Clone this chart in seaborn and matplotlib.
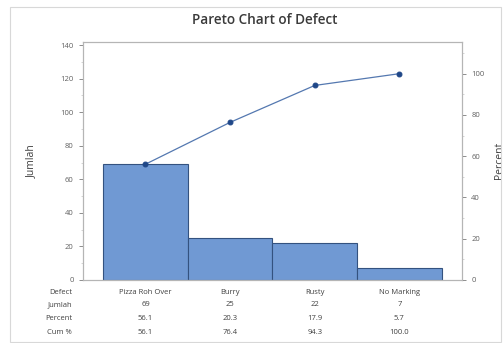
import numpy as np
import pandas as pd
import matplotlib
matplotlib.use("Agg")
import matplotlib.pyplot as plt
import matplotlib.transforms as mtransforms
from matplotlib.patches import Rectangle
from matplotlib.ticker import MultipleLocator
import seaborn as sns

# Data
defects = ["Pizza Roh Over", "Burry", "Rusty", "No Marking"]
counts = [69, 25, 22, 7]
percent = [56.1, 20.3, 17.9, 5.7]
cum_percent = [56.1, 76.4, 94.3, 100.0]
left_ticks = [0, 20, 40, 60, 80, 100, 120, 140]
right_ticks = [0, 20, 40, 60, 80, 100]

total = sum(counts)
df = pd.DataFrame({"Defect": defects, "Jumlah": counts, "Cum": cum_percent})

sns.set_style("white")
plt.rcParams['font.family'] = ['Open Sans', 'DejaVu Sans']

fig = plt.figure(figsize=(5.04, 3.43), dpi=100)
ax = fig.add_axes([0.164, 0.184, 0.753, 0.694])

bar_col = '#7099d3'
edge_col = '#34527f'
line_col = '#5478b0'
dot_col = '#1f4788'
grey = '#b5b5b5'
txt = '#404040'

sns.barplot(data=df, x="Defect", y="Jumlah", color=bar_col, width=1.0,
            edgecolor=edge_col, linewidth=0.8, saturation=1, ax=ax)

top = 142
ax.set_ylim(0, top)
ax.set_xlim(-0.742, 3.742)
ax.set_yticks(left_ticks)
ax.yaxis.set_minor_locator(MultipleLocator(10))
ax.set_xticks([])
ax.set_xlabel("")
ax.set_ylabel("Jumlah", fontsize=7.5, color=txt)
ax.yaxis.set_label_coords(-0.12, 0.5)
ax.tick_params(axis='y', labelsize=5.5, colors='#606060', length=3, width=0.5, direction='out')
ax.tick_params(axis='y', which='minor', length=1.5, width=0.4, colors=grey)
for s in ax.spines.values():
    s.set_color(grey)
    s.set_linewidth(0.8)

ax2 = ax.twinx()
sns.lineplot(data=df, x="Defect", y="Cum", color=line_col, linewidth=0.9,
             marker='o', markersize=3.5, markerfacecolor=dot_col,
             markeredgecolor=dot_col, ax=ax2)
ax2.set_ylim(0, top / total * 100)
ax2.set_yticks(right_ticks)
ax2.yaxis.set_minor_locator(MultipleLocator(10))
ax2.set_ylabel("Percent", fontsize=7.5, color=txt)
ax2.yaxis.set_label_coords(1.085, 0.5)
ax2.tick_params(axis='y', labelsize=5.5, colors='#606060', length=3, width=0.5, direction='out')
ax2.tick_params(axis='y', which='minor', length=1.5, width=0.4, colors=grey)
for s in ax2.spines.values():
    s.set_color(grey)
    s.set_linewidth(0.8)

ax.set_title("Pareto Chart of Defect", fontsize=9.8, color='#3a3a3a',
             fontweight='semibold', x=0.48, pad=13)

# table below the chart
trans = mtransforms.blended_transform_factory(ax.transData, fig.transFigure)
trans_lbl = mtransforms.blended_transform_factory(ax.transAxes, fig.transFigure)
rows = [("Defect", defects),
        ("Jumlah", [str(c) for c in counts]),
        ("Percent", [f"{p:.1f}" for p in percent]),
        ("Cum %", [f"{p:.1f}" for p in cum_percent])]
row_y = [1 - 292 / 343, 1 - 305 / 343, 1 - 319 / 343, 1 - 332 / 343]
for (name, vals), yy in zip(rows, row_y):
    ax.text(-0.028, yy, name, transform=trans_lbl, ha='right', va='center',
            fontsize=5.5, color=txt)
    for i, v in enumerate(vals):
        ax.text(i, yy, v, transform=trans, ha='center', va='center',
                fontsize=5.5, color=txt)

# outer frame like the Minitab graph window
fig.patches.append(Rectangle((10 / 504, 0.003), 0.995 - 10 / 504, 1 - 7 / 343 - 0.003,
                             transform=fig.transFigure, fill=False,
                             edgecolor='#d8d8d8', linewidth=0.8))

fig.savefig("out.png", dpi=100)
